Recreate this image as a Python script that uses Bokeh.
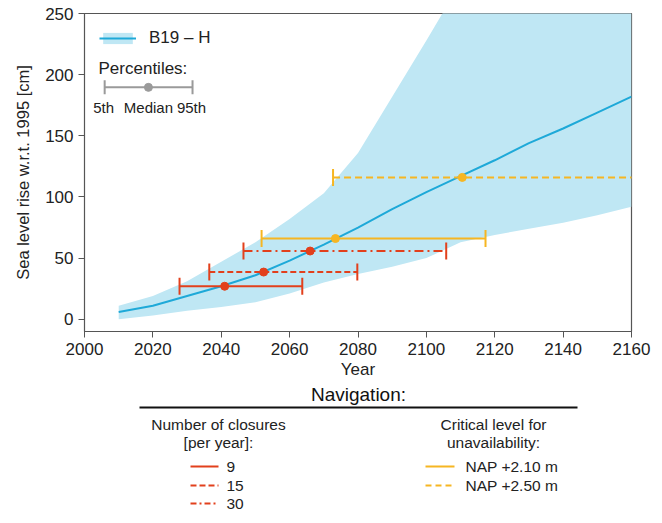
import numpy as np
from bokeh.plotting import figure
from bokeh.models import (ColumnDataSource, Range1d, FixedTicker, Legend, LegendItem)
from bokeh.layouts import column
from bokeh.core.properties import value
from bokeh.embed import file_html
from bokeh.resources import INLINE

FONT = "Liberation Sans"

# ---- data ----
years = [2010, 2020, 2030, 2040, 2050, 2060, 2070, 2080, 2090, 2100, 2110, 2120, 2130, 2140, 2150, 2160]
median = [6, 11, 19, 27, 36, 48, 61, 75, 90, 104, 117, 130, 144, 156, 169, 182]
lower = [0, 3, 7, 10, 14, 21, 30, 37, 43, 50, 63, 69, 74, 79, 85, 92]
upper = [11, 19, 31, 47, 63, 82, 103, 136, 182, 228, 275, 320, 360, 400, 440, 480]

# closures (red) : 9, 15, 30 per year
clos_labels = ["9", "15", "30"]
clos_lo = [2027.8, 2036.5, 2046.5]
clos_med = [2041.0, 2052.4, 2066.0]
clos_hi = [2063.7, 2079.8, 2105.8]
clos_level = [27, 38.6, 55.8]
clos_dash = ["solid", "6 3", "9 4 2 4"]

# critical levels (yellow)
crit_labels = ["NAP +2.10 m", "NAP +2.50 m"]
crit_lo = [2051.8, 2072.7]
crit_med = [2073.4, 2110.5]
crit_hi = [2117.3, 2170.0]
crit_level = [66, 116]
crit_dash = ["solid", "7 4"]

x_ticks = list(range(2000, 2161, 20))
y_ticks = list(range(0, 251, 50))

RED = "#e2401c"
YEL = "#f6b622"
BLUE = "#1ea9d8"
BAND = "#bfe7f4"
AX = "#555555"

p = figure(width=654, height=382, x_range=Range1d(2000, 2160), y_range=Range1d(-10, 250),
           output_backend="svg", toolbar_location=None,
           min_border_left=84, min_border_top=13, min_border_right=23, min_border_bottom=51)
p.grid.visible = False
p.outline_line_color = AX
p.outline_line_width = 1.2

src = ColumnDataSource(dict(x=years, med=median, lo=lower, hi=upper))
band = p.varea(x="x", y1="lo", y2="hi", source=src, fill_color=BAND)
ln = p.line(x="x", y="med", source=src, line_color=BLUE, line_width=2)

def errbar(lo, med, hi, lvl, color, dash):
    p.segment(x0=[lo], y0=[lvl], x1=[hi], y1=[lvl], line_color=color, line_width=2, line_dash=dash)
    p.scatter(x=[lo, hi], y=[lvl, lvl], marker="dash", angle=np.pi / 2, size=17,
              line_color=color, line_width=2)
    p.scatter(x=[med], y=[lvl], marker="circle", size=8, fill_color=color, line_color=color)

for i in range(3):
    errbar(clos_lo[i], clos_med[i], clos_hi[i], clos_level[i], RED, clos_dash[i])
for i in range(2):
    errbar(crit_lo[i], crit_med[i], crit_hi[i], crit_level[i], YEL, crit_dash[i])

# axes styling
for ax in (p.xaxis[0], p.yaxis[0]):
    ax.axis_line_color = AX
    ax.major_tick_line_color = AX
    ax.major_tick_out = 6
    ax.major_tick_in = 0
    ax.minor_tick_line_color = None
    ax.major_label_text_font = FONT
    ax.major_label_text_font_size = "17px"
    ax.major_label_text_color = "#222222"
    ax.axis_label_text_font = FONT
    ax.axis_label_text_font_size = "17px"
    ax.axis_label_text_font_style = "normal"
    ax.axis_label_text_color = "#222222"
p.yaxis.axis_label_text_font_size = "16.5px"
p.xaxis.ticker = FixedTicker(ticks=x_ticks)
p.yaxis.ticker = FixedTicker(ticks=y_ticks)
p.xaxis.axis_label = "Year"
p.xaxis.axis_label_standoff = 2
p.yaxis.axis_label = "Sea level rise w.r.t. 1995 [cm]"
p.yaxis.axis_label_standoff = 10

# legend for the projection
leg = Legend(items=[LegendItem(label="B19 \u2013 H", renderers=[band, ln])],
             location="top_left", margin=10, padding=5, glyph_width=37, glyph_height=14,
             label_standoff=13, label_text_font=FONT, label_text_font_size="17px",
             label_text_color="#222222", border_line_alpha=0, background_fill_alpha=0)
p.add_layout(leg)

# percentile key (inside plot, top-left)
GRAY = "#9a9a9a"
p.text(x=[2004.1], y=[205], text=["Percentiles:"], text_font=value(FONT), text_font_size="17px",
       text_baseline="middle", text_color="#222222")
p.segment(x0=[2005.9], y0=[189.6], x1=[2031.6], y1=[189.6], line_color=GRAY, line_width=2)
p.scatter(x=[2005.9, 2031.6], y=[189.6, 189.6], marker="dash", angle=np.pi / 2, size=14,
          line_color=GRAY, line_width=2)
p.scatter(x=[2018.7], y=[189.6], marker="circle", size=8, fill_color=GRAY, line_color=GRAY)
p.text(x=[2005.6, 2018.7, 2031.3], y=[173, 173, 173], text=["5th", "Median", "95th"],
       text_font=value(FONT), text_font_size="15px", text_align="center",
       text_baseline="middle", text_color="#222222")

# ---- lower legend panel (its frame is aligned with the plot frame: x 84..631) ----
q = figure(width=654, height=132, x_range=Range1d(84, 631), y_range=Range1d(132, 0),
           output_backend="svg", toolbar_location=None,
           min_border_left=84, min_border_right=23, min_border_top=0, min_border_bottom=0)
q.axis.visible = False
q.grid.visible = False
q.outline_line_color = None

q.text(x=[358], y=[12], text=["Navigation:"], text_font=value(FONT), text_font_size="19px",
       text_align="center", text_baseline="middle", text_color="#111111")
q.segment(x0=[139], y0=[25], x1=[577], y1=[25], line_color="#111111", line_width=2)
q.text(x=[218, 218], y=[42, 60], text=["Number of closures", "[per year]:"],
       text_font=value(FONT), text_font_size="15.5px", text_align="center",
       text_baseline="middle", text_color="#222222")
q.text(x=[493, 493], y=[42, 60], text=["Critical level for", "unavailability:"],
       text_font=value(FONT), text_font_size="15.5px", text_align="center",
       text_baseline="middle", text_color="#222222")
rows = [84, 103, 121]
for i, lab in enumerate(clos_labels):
    q.segment(x0=[190], y0=[rows[i]], x1=[218], y1=[rows[i]], line_color=RED, line_width=2,
              line_dash=clos_dash[i] if clos_dash[i] != "9 4 2 4" else "6 3 2 3")
    q.text(x=[226], y=[rows[i]], text=[lab], text_font=value(FONT), text_font_size="15.5px",
           text_baseline="middle", text_color="#222222")
for i, lab in enumerate(crit_labels):
    q.segment(x0=[425], y0=[rows[i]], x1=[454], y1=[rows[i]], line_color=YEL, line_width=2,
              line_dash=crit_dash[i] if crit_dash[i] == "solid" else "6 4")
    q.text(x=[465], y=[rows[i]], text=[lab], text_font=value(FONT), text_font_size="15.5px",
           text_baseline="middle", text_color="#222222")

layout = column(p, q, spacing=0)
open("out.html", "w").write(file_html(layout, INLINE))
